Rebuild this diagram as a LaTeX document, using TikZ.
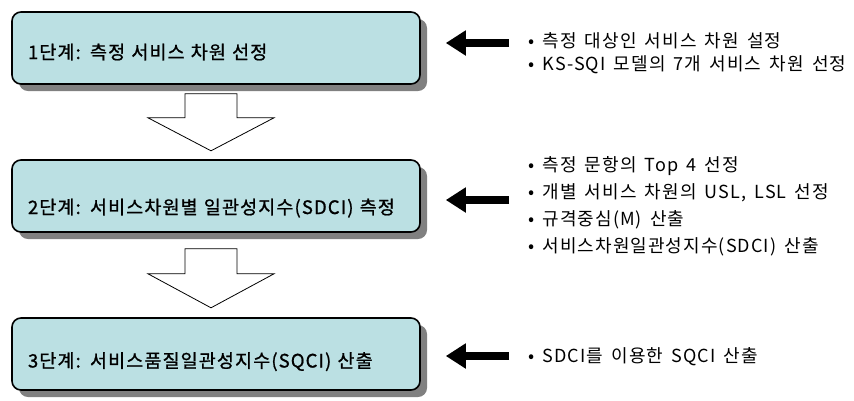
\documentclass[tikz,border=0pt]{standalone}
\usepackage{fontspec}
\setmainfont{Noto Sans CJK KR}[WordSpace=1.6]
\newfontfamily\stagefont{Noto Sans CJK KR}[WordSpace=1.6, LetterSpace=6, FakeBold=1]
\newfontfamily\notefont{Noto Sans CJK KR}[WordSpace=1.6, LetterSpace=6]
\usetikzlibrary{positioning,shadows,arrows.meta,calc}
\definecolor{boxfill}{RGB}{187,224,227}
\definecolor{shade}{RGB}{128,128,128}

\begin{document}
\begin{tikzpicture}[x=1pt,y=-1pt]
\tikzset{stage/.style={draw, line width=1.6pt, rounded corners=9pt, fill=boxfill,
    minimum width=408pt, minimum height=72pt, text width=376pt, align=left,
    inner xsep=16pt, font=\stagefont\fontsize{18.5}{21}\selectfont,
    drop shadow={shadow xshift=7pt, shadow yshift=-7pt, fill=shade, opacity=1}},
  notes/.style={anchor=west, align=left, inner sep=0pt, font=\notefont\fontsize{18}{23}\selectfont},
  hollow/.style={draw, line width=0.8pt, fill=white},
  pointer/.style={line width=8pt, -{Triangle[length=20pt,width=24pt]},
    shorten >=25pt, shorten <=19pt}}
\useasboundingbox (0,0) rectangle (854,400);
% stages
\node[stage, text height=30pt, text depth=8pt] (s1) at (216,48) {1단계: 측정 서비스 차원 선정};
\node[stage, text height=38pt, text depth=2pt] (s2) at (216,196) {2단계: 서비스차원별 일관성지수(SDCI) 측정};
\node[stage, text height=32pt, text depth=5pt] (s3) at (216,354) {3단계: 서비스품질일관성지수(SQCI) 산출};
% notes
\node[notes] (l1) at (528,53.5) {• 측정 대상인 서비스 차원 설정\\• KS-SQI 모델의 7개 서비스 차원 선정};
\node[notes] (l2) at (528,206) {• 측정 문항의 Top 4 선정\\[4pt]• 개별 서비스 차원의 USL, LSL 선정\\[4pt]• 규격중심(M) 산출\\[4pt]• 서비스차원일관성지수(SDCI) 산출};
\node[notes] (l3) at (528,357) {• SDCI를 이용한 SQCI 산출};
% hollow arrows
\draw[hollow] ($(s1.south)+(-31,9)$) -- ++(0,24) -- ++(-37,0) -- ++(63,33) -- ++(63,-33) -- ++(-37,0) -- ++(0,-24) -- cycle;
\draw[hollow] ($(s2.south)+(-31,16)$) -- ++(0,25) -- ++(-37,0) -- ++(63,34) -- ++(63,-34) -- ++(-37,0) -- ++(0,-25) -- cycle;
% pointers
\draw[pointer] ($(s1.east -| l1.west)+(0,-5)$) -- ($(s1.east)+(0,-5)$);
\draw[pointer] ($(s2.east -| l2.west)+(0,4)$) -- ($(s2.east)+(0,4)$);
\draw[pointer] ($(s3.east -| l3.west)+(0,2)$) -- ($(s3.east)+(0,2)$);
\end{tikzpicture}
\end{document}
